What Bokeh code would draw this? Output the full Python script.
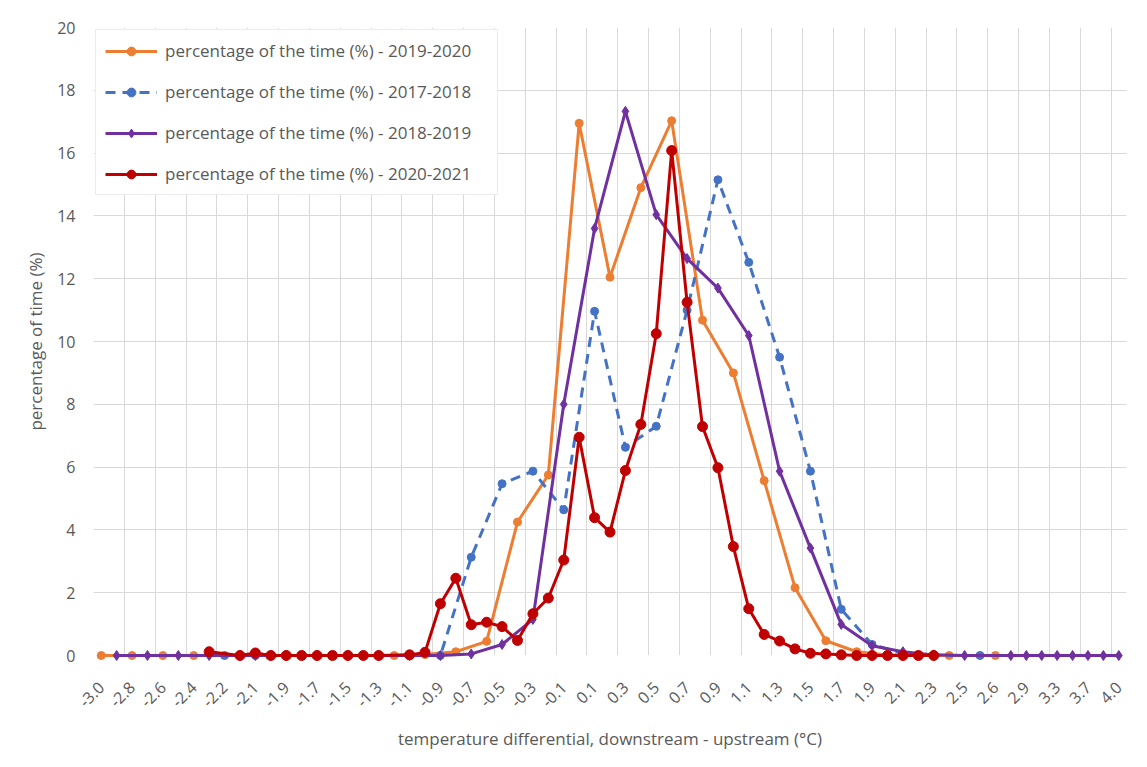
import math
from bokeh.plotting import figure
from bokeh.models import Range1d, FixedTicker
from bokeh.embed import file_html
from bokeh.resources import INLINE

N = None

# category bins along the x axis (every other one is labelled)
categories = ["-3.0", "-2.9", "-2.8", "-2.7", "-2.6", "-2.5", "-2.4", "-2.3", "-2.2", "-2.15",
              "-2.1", "-2.0", "-1.9", "-1.8", "-1.7", "-1.6", "-1.5", "-1.4", "-1.3", "-1.2",
              "-1.1", "-1.0", "-0.9", "-0.8", "-0.7", "-0.6", "-0.5", "-0.4", "-0.3", "-0.2",
              "-0.1", "0.0", "0.1", "0.2", "0.3", "0.4", "0.5", "0.6", "0.7", "0.8",
              "0.9", "1.0", "1.1", "1.2", "1.3", "1.4", "1.5", "1.6", "1.7", "1.8",
              "1.9", "2.0", "2.1", "2.2", "2.3", "2.4", "2.5", "2.55", "2.6", "2.8",
              "2.9", "3.1", "3.3", "3.5", "3.7", "3.9", "4.0"]

y_ticks = [0, 2, 4, 6, 8, 10, 12, 14, 16, 18, 20]

pct_2019_2020 = [0, N, 0, N, 0, N, 0, N, N, 0,
                 N, 0, N, 0, N, 0, N, 0, N, 0,
                 N, 0.03, N, 0.12, N, 0.45, N, 4.25, N, 5.75,
                 N, 16.95, N, 12.05, N, 14.9, N, 17.03, N, 10.68,
                 N, 9.0, N, 5.57, N, 2.16, N, 0.47, N, 0.12,
                 N, 0.02, N, 0, N, 0, N, N, 0, N,
                 N, N, N, N, N, N, N]

pct_2017_2018 = [N, N, N, N, N, N, N, N, 0, N,
                 0, N, 0, N, 0, N, 0, N, 0, N,
                 0, N, 0, N, 3.13, N, 5.47, N, 5.87, N,
                 4.64, N, 10.96, N, 6.63, N, 7.3, N, 11.0, N,
                 15.15, N, 12.52, N, 9.5, N, 5.87, N, 1.47, N,
                 0.35, N, 0.06, N, 0, N, N, 0, N, N,
                 N, N, N, N, N, N, N]

pct_2018_2019 = [N, 0, N, 0, N, 0, N, 0, N, N,
                 0, N, 0, N, 0, N, 0, N, 0, N,
                 0, N, 0, N, 0.05, N, 0.35, N, 1.15, N,
                 8.0, N, 13.6, N, 17.33, N, 14.04, N, 12.64, N,
                 11.7, N, 10.19, N, 5.87, N, 3.42, N, 0.99, N,
                 0.31, N, 0.12, N, 0.02, N, 0, N, N, 0,
                 0, 0, 0, 0, 0, 0, 0]

pct_2020_2021 = [N, N, N, N, N, N, N, 0.12, N, 0,
                 0.08, 0, 0, 0, 0, 0, 0, 0, 0, N,
                 0.02, 0.1, 1.65, 2.46, 0.98, 1.06, 0.92, 0.48, 1.33, 1.83,
                 3.04, 6.95, 4.39, 3.93, 5.89, 7.36, 10.25, 16.08, 11.25, 7.29,
                 5.98, 3.47, 1.49, 0.67, 0.46, 0.21, 0.07, 0.05, 0.02, 0,
                 0, 0, 0, 0, 0, N, N, N, N, N,
                 N, N, N, N, N, N, N]

series = [
    ("percentage of the time (%) - 2019-2020", pct_2019_2020, "#ED7D31", "solid", "circle", 8, 3),
    ("percentage of the time (%) - 2017-2018", pct_2017_2018, "#4472C4", "10 7", "circle", 8, 3),
    ("percentage of the time (%) - 2018-2019", pct_2018_2019, "#7030A0", "solid", "diamond", 10, 3),
    ("percentage of the time (%) - 2020-2021", pct_2020_2021, "#C00000", "solid", "circle", 10, 3),
]

FONT = "Open Sans"
GREY = "#595959"
GRID = "#D9D9D9"

p = figure(width=1147, height=767, output_backend="svg", toolbar_location=None,
           x_range=Range1d(-0.5, len(categories) - 0.5), y_range=Range1d(0, 20),
           min_border_left=93, min_border_right=21, min_border_top=27, min_border_bottom=112)
p.outline_line_color = None
p.background_fill_color = "white"
p.border_fill_color = "white"

for name, vals, color, dash, marker, size, lw in series:
    xs = [i for i, v in enumerate(vals) if v is not None]
    ys = [v for v in vals if v is not None]
    p.line(xs, ys, line_color=color, line_width=lw, line_dash=dash,
           legend_label=name, level="overlay")
    p.scatter(xs, ys, marker=marker, size=size, fill_color=color, line_color=color,
              legend_label=name, level="overlay")

# axes
p.xaxis.ticker = FixedTicker(ticks=list(range(0, len(categories), 2)))
p.xaxis.major_label_overrides = {i: categories[i] for i in range(0, len(categories), 2)}
p.xaxis.major_label_orientation = math.pi / 4
p.yaxis.ticker = FixedTicker(ticks=y_ticks)
for ax in (p.xaxis[0], p.yaxis[0]):
    ax.axis_line_color = None
    ax.major_tick_line_color = None
    ax.minor_tick_line_color = None
    ax.major_label_text_font = FONT
    ax.major_label_text_font_size = "16px"
    ax.major_label_text_color = GREY
    ax.axis_label_text_font = FONT
    ax.axis_label_text_font_size = "17px"
    ax.axis_label_text_color = GREY
    ax.axis_label_text_font_style = "normal"
p.xaxis.axis_label = "temperature differential, downstream - upstream (°C)"
p.yaxis.axis_label = "percentage of time (%)"
p.xaxis.major_label_standoff = 23
p.xaxis.axis_label_standoff = 11
p.yaxis.major_label_standoff = 12
p.yaxis.axis_label_standoff = 7

# grids
p.xgrid.ticker = FixedTicker(ticks=[i - 0.5 for i in range(0, len(categories), 2)])
p.xgrid.grid_line_color = GRID
p.ygrid.grid_line_color = GRID
p.xgrid.grid_line_width = 1
p.ygrid.grid_line_width = 1

# legend
lg = p.legend[0]
lg.location = "top_left"
lg.margin = 2
lg.padding = 9
lg.spacing = 18
lg.glyph_width = 52
lg.glyph_height = 22
lg.label_height = 22
lg.label_width = 323
lg.label_standoff = 8
lg.label_text_font = FONT
lg.label_text_font_size = "17px"
lg.label_text_color = GREY
lg.border_line_color = GRID
lg.border_line_width = 1
lg.background_fill_alpha = 1

open("out.html", "w").write(file_html(p, INLINE))
